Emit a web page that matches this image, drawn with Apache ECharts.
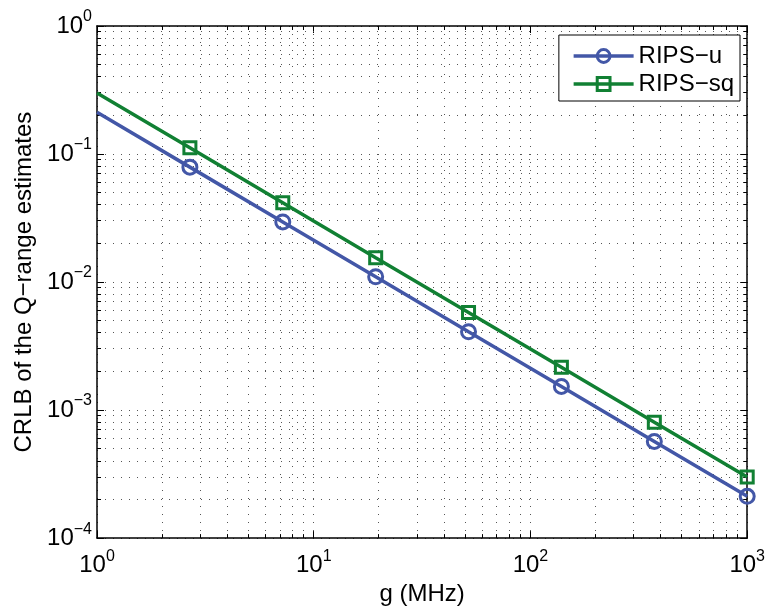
<!DOCTYPE html>
<html>
<head>
<meta charset="utf-8">
<script src="https://cdn.jsdelivr.net/npm/echarts@6/dist/echarts.min.js"></script>
<style>
html,body{margin:0;padding:0;background:#fff;}
#chart{width:768px;height:611px;}
</style>
</head>
<body>
<div id="chart"></div>
<script>
// ---- data ----
const gMHz   = [1, 2.683, 7.197, 19.31, 51.79, 138.9, 372.8, 1000];
const ripsU  = [0.212, 0.0790, 0.0295, 0.0110, 0.00409, 0.00153, 0.000569, 0.000212];
const ripsSq = [0.300, 0.112, 0.0417, 0.0155, 0.00579, 0.00216, 0.000805, 0.000300];
const seriesNames = ['RIPS\u2212u', 'RIPS\u2212sq'];
const xRange = [1, 1000];
const yRange = [1e-4, 1];
const xLabel = 'g (MHz)';
const yLabel = 'CRLB of the Q\u2212range estimates';

const FONT = 'Liberation Sans, Arial, Helvetica, sans-serif';
const BLUE = '#4357A7';
const GREEN = '#118033';
const GRIDC = '#555';
const DOT = [1, 7];

function minorValues(lo, hi) {
  const out = [];
  for (let d = lo; d < hi; d *= 10) {
    for (let m = 2; m <= 9; m++) out.push(+(m * d).toPrecision(6));
  }
  return out;
}
const xMinor = minorValues(xRange[0], xRange[1]);
const yMinor = minorValues(yRange[0], yRange[1]);

function expLabel(v) {
  const e = Math.round(Math.log10(v));
  const s = e < 0 ? '\u2212' + (-e) : '' + e;
  return '{a|10}{b|' + s + '}';
}
const richTicks = {
  a: { fontSize: 24, fontFamily: FONT, color: '#000', lineHeight: 34 },
  b: { fontSize: 16, fontFamily: FONT, color: '#000', lineHeight: 14, verticalAlign: 'top' }
};

function mkData(vals) {
  return gMHz.map((g, i) => i === 0 ? { value: [g, vals[i]], symbol: 'none' } : [g, vals[i]]);
}

const crisp = v => Math.round(v - 0.5) + 0.5;

const chart = echarts.init(document.getElementById('chart'), null, { renderer: 'canvas' });
const option = {
  backgroundColor: '#fff',
  animation: false,
  grid: { left: 97, top: 26, right: 18, bottom: 70, containLabel: false },
  legend: {
    data: seriesNames,
    orient: 'vertical',
    right: 28, top: 35,
    backgroundColor: '#fff',
    borderColor: '#000', borderWidth: 1,
    padding: [9, 6, 5, 13],
    itemWidth: 60, itemHeight: 16, itemGap: 4,
    lineStyle: { width: 3.5 },
    itemStyle: { borderWidth: 3 },
    textStyle: { fontSize: 24, fontFamily: FONT, color: '#000', lineHeight: 24 }
  },
  xAxis: [{
    type: 'log', logBase: 10, min: xRange[0], max: xRange[1],
    position: 'bottom',
    name: xLabel, nameLocation: 'middle', nameGap: 42,
    nameTextStyle: { fontSize: 24, fontFamily: FONT, color: '#000' },
    axisLine: { show: true, onZero: false, lineStyle: { color: '#000', width: 1.5 } },
    axisTick: { show: true, inside: true, length: 7, lineStyle: { color: '#000', width: 1 } },
    axisLabel: { margin: 10, formatter: expLabel, rich: richTicks, showMinLabel: true, showMaxLabel: true, hideOverlap: false },
    splitLine: { show: true, lineStyle: { color: GRIDC, width: 1, type: DOT } }
  }, {
    type: 'log', logBase: 10, min: xRange[0], max: xRange[1],
    position: 'top',
    axisLine: { show: true, onZero: false, lineStyle: { color: '#000', width: 1.5 } },
    axisTick: { show: true, inside: true, length: 7, lineStyle: { color: '#000', width: 1 } },
    axisLabel: { show: false },
    splitLine: { show: false }
  }],
  yAxis: [{
    type: 'log', logBase: 10, min: yRange[0], max: yRange[1],
    position: 'left',
    name: yLabel, nameLocation: 'middle', nameGap: 61, nameRotate: 90,
    nameTextStyle: { fontSize: 24, fontFamily: FONT, color: '#000' },
    axisLine: { show: true, onZero: false, lineStyle: { color: '#000', width: 1.5 } },
    axisTick: { show: true, inside: true, length: 7, lineStyle: { color: '#000', width: 1 } },
    axisLabel: { margin: 5, formatter: expLabel, rich: richTicks, showMinLabel: true, showMaxLabel: true, hideOverlap: false },
    splitLine: { show: true, lineStyle: { color: GRIDC, width: 1, type: DOT } }
  }, {
    type: 'log', logBase: 10, min: yRange[0], max: yRange[1],
    position: 'right',
    axisLine: { show: true, onZero: false, lineStyle: { color: '#000', width: 1.5 } },
    axisTick: { show: true, inside: true, length: 7, lineStyle: { color: '#000', width: 1 } },
    axisLabel: { show: false },
    splitLine: { show: false }
  }],
  series: [
    {
      type: 'custom', name: 'xminor', silent: true, z: 1,
      xAxisIndex: 0, yAxisIndex: 0,
      data: xMinor.map(v => [v, 0.01]),
      renderItem: function (params, api) {
        const v = api.value(0);
        const t = api.coord([v, yRange[1]]);
        const b = api.coord([v, yRange[0]]);
        const x = crisp(t[0]);
        return { type: 'group', children: [
          { type: 'line', shape: { x1: x, y1: t[1], x2: x, y2: b[1] }, style: { stroke: GRIDC, lineWidth: 1, lineDash: DOT } },
          { type: 'line', shape: { x1: x, y1: b[1], x2: x, y2: b[1] - 4 }, style: { stroke: '#000', lineWidth: 1 } },
          { type: 'line', shape: { x1: x, y1: t[1], x2: x, y2: t[1] + 4 }, style: { stroke: '#000', lineWidth: 1 } }
        ] };
      }
    },
    {
      type: 'custom', name: 'yminor', silent: true, z: 1,
      xAxisIndex: 0, yAxisIndex: 0,
      data: yMinor.map(v => [10, v]),
      renderItem: function (params, api) {
        const v = api.value(1);
        const l = api.coord([xRange[0], v]);
        const r = api.coord([xRange[1], v]);
        const y = crisp(l[1]);
        return { type: 'group', children: [
          { type: 'line', shape: { x1: l[0], y1: y, x2: r[0], y2: y }, style: { stroke: GRIDC, lineWidth: 1, lineDash: DOT } },
          { type: 'line', shape: { x1: l[0], y1: y, x2: l[0] + 4, y2: y }, style: { stroke: '#000', lineWidth: 1 } },
          { type: 'line', shape: { x1: r[0], y1: y, x2: r[0] - 4, y2: y }, style: { stroke: '#000', lineWidth: 1 } }
        ] };
      }
    },
    {
      type: 'line', name: seriesNames[0], z: 5,
      xAxisIndex: 0, yAxisIndex: 0,
      data: mkData(ripsU),
      symbol: 'circle', symbolSize: 14, showSymbol: true, showAllSymbol: true,
      lineStyle: { color: BLUE, width: 3.5 },
      itemStyle: { color: 'rgba(255,255,255,0)', borderColor: BLUE, borderWidth: 3 },
      emphasis: { disabled: true }
    },
    {
      type: 'line', name: seriesNames[1], z: 5,
      xAxisIndex: 0, yAxisIndex: 0,
      data: mkData(ripsSq),
      symbol: 'rect', symbolSize: 12, showSymbol: true, showAllSymbol: true,
      lineStyle: { color: GREEN, width: 3.5 },
      itemStyle: { color: 'rgba(255,255,255,0)', borderColor: GREEN, borderWidth: 3 },
      emphasis: { disabled: true }
    }
  ]
};
chart.setOption(option);
</script>
</body>
</html>
